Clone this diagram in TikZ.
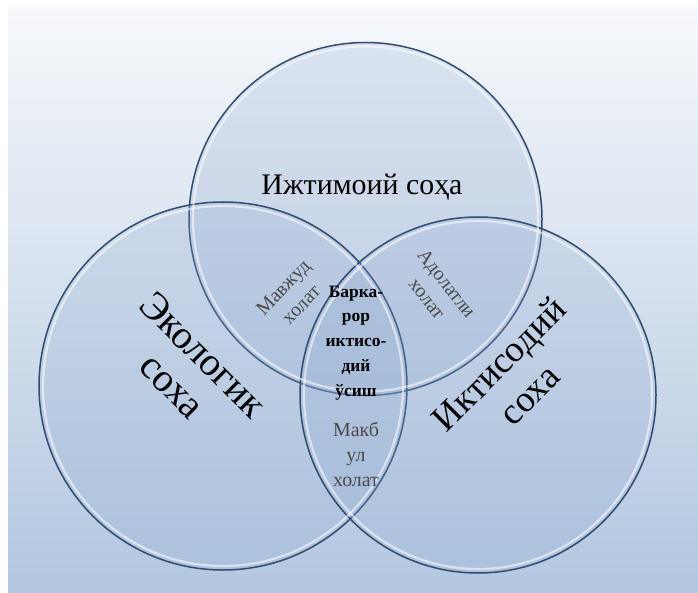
\documentclass[tikz,border=0pt]{standalone}
\usepackage{fontspec}
\setmainfont{Liberation Serif}
\usetikzlibrary{positioning}

\definecolor{bgtop}{HTML}{F6F8FB}
\definecolor{bgbottom}{HTML}{B2C7E0}
\definecolor{ringline}{HTML}{324C70}
\definecolor{ringfill}{HTML}{8FAAD0}
\definecolor{softtext}{HTML}{4A4A4A}

\begin{document}
\begin{tikzpicture}[x=1bp, y=-1bp]
  \tikzstyle{sphere} = [circle, draw=ringline, line width=1.5bp, fill=ringfill, fill opacity=0.24, inner sep=0pt]
  \tikzstyle{gloss} = [circle, draw=white, draw opacity=0.55, line width=2.2bp, inner sep=0pt]
  \tikzstyle{bigtext} = [align=center, text=black, font=\fontsize{37}{43}\selectfont]
  \tikzstyle{midtext} = [align=center, text=softtext, font=\fontsize{20}{25}\selectfont]
  \tikzstyle{coretext} = [align=center, text=black, font=\bfseries\fontsize{17.5}{25}\selectfont]
  \useasboundingbox (0,0) rectangle (698,593);
  \shade[top color=bgtop, bottom color=bgbottom] (8,8) rectangle (698,593);

  % the three spheres
  \node[sphere, minimum size=353bp] (social) at (365.5,219) {};
  \node[sphere, minimum size=368bp] (ecology) at (223,386) {};
  \node[sphere, minimum size=356bp] (economy) at (478,395) {};
  \node[gloss, minimum size=345bp] at (social) {};
  \node[gloss, minimum size=360bp] at (ecology) {};
  \node[gloss, minimum size=348bp] at (economy) {};

  % labels
  \node[bigtext, font=\fontsize{30}{34}\selectfont] (sociallabel) at (362,187) {Ижтимоий соҳа};
  \node[bigtext, rotate=-45, font=\fontsize{40}{44}\selectfont] (ecolabel) at (188,370) {Экологик\\соха};
  \node[bigtext, rotate=45] (econlabel) at (514,379) {Иктисодий\\соха};
  \node[midtext, rotate=46] (existing) at (292,296) {Мавжуд\\холат};
  \node[midtext, rotate=-52] (fair) at (437,291) {Адолатли\\холат};
  \node[coretext] (core) at (356,343) {Барка-\\рор\\иктисо-\\дий\\ўсиш};
  \node[midtext, below=15bp of core] (accepted) {Макб\\ул\\холат};
\end{tikzpicture}
\end{document}
